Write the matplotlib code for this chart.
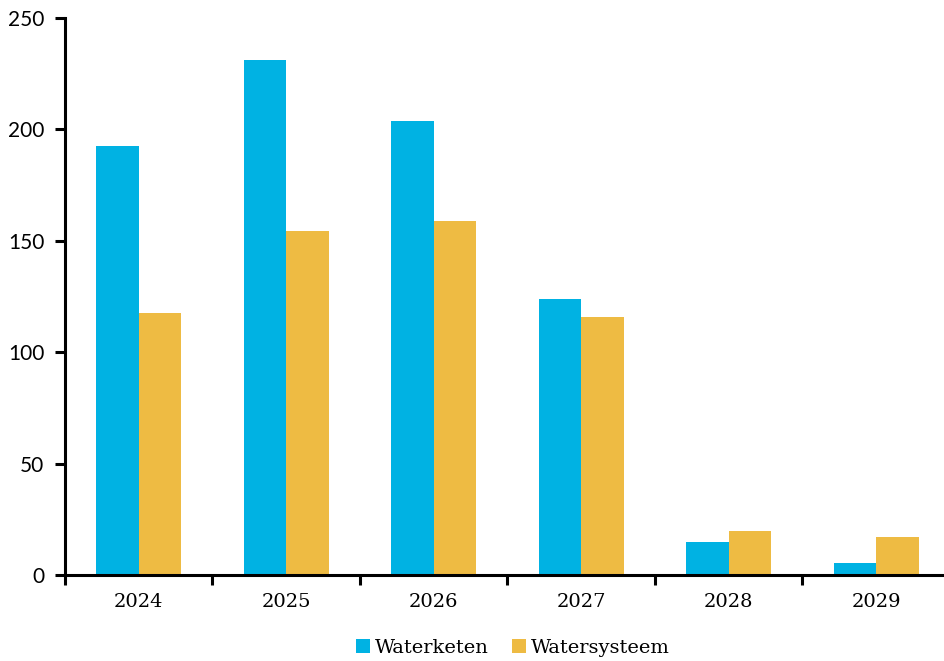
import matplotlib
matplotlib.use("Agg")
import matplotlib.pyplot as plt
import numpy as np

years = ["2024", "2025", "2026", "2027", "2028", "2029"]
waterketen = [192.5, 231.0, 203.8, 123.9, 14.8, 5.4]
watersysteem = [117.6, 154.4, 158.9, 115.8, 19.7, 17.1]
series_names = ["Waterketen", "Watersysteem"]
colors = ["#00B2E3", "#EEBB43"]

fig = plt.figure(figsize=(9.45, 6.61), dpi=100)
ax = fig.add_axes([65 / 945, 1 - 575 / 661, 885 / 945, (575 - 18) / 661])

x = np.arange(len(years))
w = 0.287
ax.bar(x - w / 2, waterketen, width=w, color=colors[0], label=series_names[0])
ax.bar(x + w / 2, watersysteem, width=w, color=colors[1], label=series_names[1])

ax.set_xlim(-0.5, len(years) - 0.5)
ax.set_ylim(0, 250)
ax.set_yticks([0, 50, 100, 150, 200, 250])

for s in ["top", "right"]:
    ax.spines[s].set_visible(False)
for s in ["left", "bottom"]:
    ax.spines[s].set_linewidth(2.2)
    ax.spines[s].set_color("black")

ax.tick_params(axis="y", direction="out", length=7, width=2.2, pad=8,
               labelsize=15)
for lab in ax.get_yticklabels():
    lab.set_family("Lato")

# category labels centred, ticks at the group boundaries
ax.set_xticks(np.arange(len(years) + 1) - 0.5)
ax.set_xticklabels([])
ax.tick_params(axis="x", which="major", direction="out", length=7, width=2.2)
ax.set_xticks(x, minor=True)
ax.set_xticklabels(years, minor=True, family="DejaVu Serif", fontsize=14)
ax.tick_params(axis="x", which="minor", length=0, pad=13)

leg = fig.legend(loc="center", bbox_to_anchor=(513 / 945, 1 - 648 / 661), ncol=2,
                 frameon=False, prop={"family": "DejaVu Serif", "size": 14},
                 handlelength=0.7, handleheight=0.7, handletextpad=0.25,
                 columnspacing=1.2)

fig.savefig("out.png", dpi=100)
